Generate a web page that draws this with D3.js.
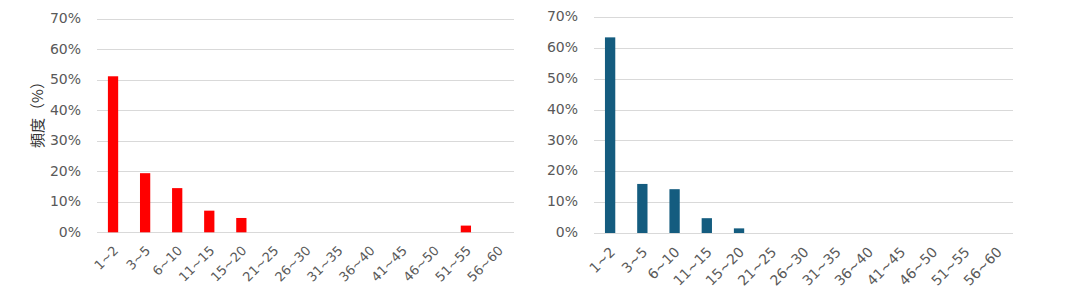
<!doctype html>
<html>
<head>
<meta charset="utf-8">
<script src="https://cdnjs.cloudflare.com/ajax/libs/d3/7.8.5/d3.min.js"></script>
<style>
 body { margin: 0; background: #fff; }
 text { font-family: "DejaVu Sans", Verdana, sans-serif; fill: #595959; }
</style>
</head>
<body>
<script>
// bins (days)
var categories = ["1~2", "3~5", "6~10", "11~15", "15~20", "21~25", "26~30", "31~35", "36~40", "41~45", "46~50", "51~55", "56~60"];
// frequency in %
var leftValues = [51.2, 19.4, 14.5, 7.1, 4.7, 0, 0, 0, 0, 0, 0, 2.2, 0];
var rightValues = [63.4, 15.9, 14.2, 4.8, 1.5, 0, 0, 0, 0, 0, 0, 0, 0];
var yTicks = [0, 10, 20, 30, 40, 50, 60, 70];
var yTitle = "頻度（%）";

var svg = d3.select("body").append("svg")
  .attr("width", 1076)
  .attr("height", 295);

function drawChart(values, opt) {
  var x = d3.scaleBand()
    .domain(categories)
    .range([opt.x0, opt.x1])
    .paddingInner(0.68)
    .paddingOuter(0.34);

  var y = d3.scaleLinear()
    .domain([0, 70])
    .range([opt.y0, opt.y1]);

  var g = svg.append("g");

  // grid lines
  g.selectAll("line.grid")
    .data(yTicks)
    .enter().append("line")
    .attr("class", "grid")
    .attr("x1", opt.x0)
    .attr("x2", opt.x1)
    .attr("y1", function(d) { return Math.round(y(d)) + 0.5; })
    .attr("y2", function(d) { return Math.round(y(d)) + 0.5; })
    .attr("stroke", "#d9d9d9")
    .attr("stroke-width", 1);

  // y tick labels
  g.selectAll("text.ytick")
    .data(yTicks)
    .enter().append("text")
    .attr("class", "ytick")
    .attr("x", opt.labelX)
    .attr("y", function(d) { return y(d); })
    .attr("dy", "0.3em")
    .attr("text-anchor", "end")
    .style("font-size", "14px")
    .text(function(d) { return d + "%"; });

  // bars
  g.selectAll("rect.bar")
    .data(values)
    .enter().append("rect")
    .attr("class", "bar")
    .attr("x", function(d, i) { return x(categories[i]); })
    .attr("width", x.bandwidth())
    .attr("y", function(d) { return y(d); })
    .attr("height", function(d) { return y(0) - y(d); })
    .attr("fill", opt.color);

  // x labels
  g.selectAll("text.xtick")
    .data(categories)
    .enter().append("text")
    .attr("class", "xtick")
    .attr("text-anchor", "end")
    .style("font-size", opt.xFont)
    .attr("transform", function(d) {
      var cx = x(d) + x.bandwidth() / 2 + opt.xdx;
      return "translate(" + cx + "," + (opt.y0 + opt.xdy) + ") rotate(-45)";
    })
    .text(function(d) { return d; });
}

drawChart(leftValues, { x0: 97, x1: 514, y0: 232.3, y1: 19, labelX: 81, color: "#ff0000", xFont: "13px", xdx: 6, xdy: 19 });
drawChart(rightValues, { x0: 594, x1: 1013, y0: 233, y1: 17, labelX: 578, color: "#145c7f", xFont: "14px", xdx: 6, xdy: 20 });

// y axis title
svg.append("text")
  .attr("transform", "translate(38,111) rotate(-90)")
  .attr("text-anchor", "middle")
  .attr("dy", "0.35em")
  .style("font-family", "'Noto Sans CJK JP', sans-serif")
  .style("font-size", "15px")
  .style("fill", "#333333")
  .text(yTitle);
</script>
</body>
</html>
